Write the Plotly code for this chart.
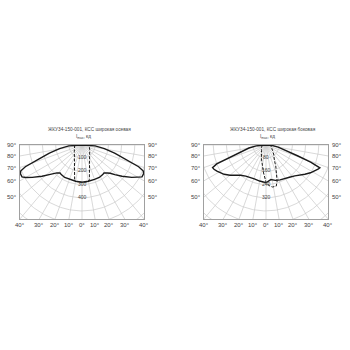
import numpy as np
import plotly.graph_objects as go

# ---------------- data ----------------
title_L = "ЖКУ34-150-001, КСС широкая осевая"
title_R = "ЖКУ34-150-001, КСС широкая боковая"
unit_label = "I<sub>max</sub>, кд"

# Left diagram (angle in degrees from nadir, negative = left side; intensity in cd)
ang_L_solid = [-90, -86, -81, -76, -72, -69, -67, -65, -62, -60, -57, -52, -48, -45, -42, -38, -35, -28, -20, -10,
               0, 10, 20, 28, 35, 38, 42, 45, 48, 52, 57, 60, 62, 65, 67, 69, 72, 76, 81, 86, 90]
cd_L_solid = [0, 100, 172, 255, 345, 460, 505, 515, 515, 492, 450, 385, 335, 303, 285, 270, 274, 279, 278, 279,
              282, 279, 278, 279, 274, 270, 285, 303, 335, 385, 450, 492, 515, 515, 505, 460, 345, 255, 172, 100, 0]

ang_L_dash = [-90, -80, -70, -60, -50, -40, -30, -25, -20, -15, -12, -10, -5, 0,
              5, 10, 12, 15, 20, 25, 30, 40, 50, 60, 70, 80, 90]
cd_L_dash = [55, 58, 61, 67, 76, 91, 116, 137, 168, 222, 268, 280, 283, 283,
             283, 280, 268, 222, 168, 137, 116, 91, 76, 67, 61, 58, 55]

# Right diagram
ang_R_solid = [-90, -85, -80, -75, -71, -69, -67, -65, -62, -55, -50, -44, -40, -33, -25, -19, -10, 0,
               8, 15, 22, 29, 36, 43, 48, 53, 58, 62, 65, 67, 69, 71, 75, 80, 85, 90]
cd_R_solid = [0, 60, 105, 150, 240, 320, 352, 348, 337, 310, 285, 252, 240, 225, 218, 217, 222, 229,
              212, 222, 228, 231, 242, 256, 275, 295, 318, 336, 348, 355, 290, 205, 120, 75, 40, 0]

ang_R_dash = [-90, -70, -60, -40, -30, -20, -15, -10, -5, 0, 5, 9, 14, 17, 20, 25, 28, 35, 40, 50, 60, 70, 90]
cd_R_dash = [22, 28, 32, 42, 58, 82, 100, 130, 170, 225, 250, 258, 257, 230, 188, 140, 110, 85, 72, 52, 42, 35, 28]

# grid
radial_angles = list(range(-90, 91, 10))
rings_L = [100, 200, 300, 400, 500, 600, 700, 800, 900, 1000]
rings_R = [80, 160, 240, 320, 400, 480, 560, 640, 720, 800]
ring_labels_L = [100, 200, 300, 400]
ring_labels_R = [80, 160, 240, 320]
side_angles = [90, 80, 70, 60, 50]
bottom_angles = [-40, -30, -20, -10, 0, 10, 20, 30, 40]

# view extents (cd) of each box: half width and depth
ext_L = (470, 561)
ext_R = (376, 449)

W = H = 350
box_L = (20, 144)
box_R = (204, 328)
box_top, box_bot = 145, 219

GRID = "#c9c9c9"
TXT = "#444444"
FONT = "Liberation Sans, Arial, sans-serif"


def pol(ang, cd):
    a = np.radians(np.asarray(ang, dtype=float))
    r = np.asarray(cd, dtype=float)
    return r * np.sin(a), -r * np.cos(a)


fig = go.Figure()
annos = []


def panel(xa, ya, rings, rlabels, solid, dash, ext, title):
    xr = "x" if xa == 1 else "x%d" % xa
    yr = "y" if ya == 1 else "y%d" % ya
    rmax = 3 * max(rings)
    # radial grid lines
    for a in radial_angles:
        x, y = pol([a, a], [0, rmax])
        fig.add_trace(go.Scatter(x=x, y=y, mode="lines", xaxis=xr, yaxis=yr,
                                 line=dict(color=GRID, width=0.7), hoverinfo="skip", showlegend=False))
    # ring grid
    arc = np.linspace(-90, 90, 181)
    for rv in rings:
        x, y = pol(arc, np.full_like(arc, rv))
        fig.add_trace(go.Scatter(x=x, y=y, mode="lines", xaxis=xr, yaxis=yr,
                                 line=dict(color=GRID, width=0.7), hoverinfo="skip", showlegend=False))
    # curves
    x, y = pol(*dash)
    fig.add_trace(go.Scatter(x=x, y=y, mode="lines", xaxis=xr, yaxis=yr,
                             line=dict(color="#1a1a1a", width=1.0, dash="3px,1.5px"),
                             hoverinfo="skip", showlegend=False))
    x, y = pol(*solid)
    fig.add_trace(go.Scatter(x=x, y=y, mode="lines", xaxis=xr, yaxis=yr,
                             line=dict(color="#1a1a1a", width=1.4),
                             hoverinfo="skip", showlegend=False))
    hx, dy = ext
    # ring labels
    for rv in rlabels:
        annos.append(dict(x=0, y=-rv, xref=xr, yref=yr, text=str(rv), showarrow=False,
                          font=dict(size=5, color=TXT, family=FONT), yshift=1))
    # side angle labels
    for a in side_angles:
        yv = -hx / np.tan(np.radians(a))
        annos.append(dict(x=-hx, y=yv, xref=xr, yref=yr, text="%d°" % a, showarrow=False,
                          xanchor="right", xshift=-1, font=dict(size=6, color=TXT, family=FONT)))
        annos.append(dict(x=hx, y=yv, xref=xr, yref=yr, text="%d°" % a, showarrow=False,
                          xanchor="left", xshift=2, font=dict(size=6, color=TXT, family=FONT)))
    # bottom angle labels (x kept inside the axis range so they are drawn)
    for a in bottom_angles:
        xv = float(np.clip(dy * np.tan(np.radians(a)), -hx * 0.998, hx * 0.998))
        annos.append(dict(x=xv, y=-dy * 0.998, xref=xr, yref=yr, text="%d°" % abs(a), showarrow=False,
                          yanchor="top", yshift=-1, font=dict(size=6, color=TXT, family=FONT)))
    annos.append(dict(x=0, y=0, xref=xr, yref=yr, text=title, showarrow=False,
                      xshift=7, yshift=16, font=dict(size=4.7, color=TXT, family=FONT)))
    annos.append(dict(x=0, y=0, xref=xr, yref=yr, text=unit_label, showarrow=False,
                      xshift=1, yshift=8, font=dict(size=4.7, color=TXT, family=FONT)))


panel(1, 1, rings_L, ring_labels_L, (ang_L_solid, cd_L_solid), (ang_L_dash, cd_L_dash), ext_L, title_L)
panel(2, 2, rings_R, ring_labels_R, (ang_R_solid, cd_R_solid), (ang_R_dash, cd_R_dash), ext_R, title_R)

ydom = [1 - box_bot / H, 1 - box_top / H]
axis_common = dict(showgrid=False, zeroline=False, showticklabels=False, ticks="",
                   showline=True, mirror=True, linecolor="#a0a0a0", linewidth=0.8, fixedrange=True)

fig.update_layout(
    width=W, height=H, margin=dict(l=0, r=0, t=0, b=0),
    paper_bgcolor="white", plot_bgcolor="white",
    showlegend=False,
    xaxis=dict(domain=[box_L[0] / W, box_L[1] / W], range=[-ext_L[0], ext_L[0]], **axis_common),
    yaxis=dict(domain=ydom, range=[-ext_L[1], 0], **axis_common),
    xaxis2=dict(domain=[box_R[0] / W, box_R[1] / W], range=[-ext_R[0], ext_R[0]], anchor="y2", **axis_common),
    yaxis2=dict(domain=ydom, range=[-ext_R[1], 0], anchor="x2", **axis_common),
    annotations=annos,
)

fig.write_html("out.html")
